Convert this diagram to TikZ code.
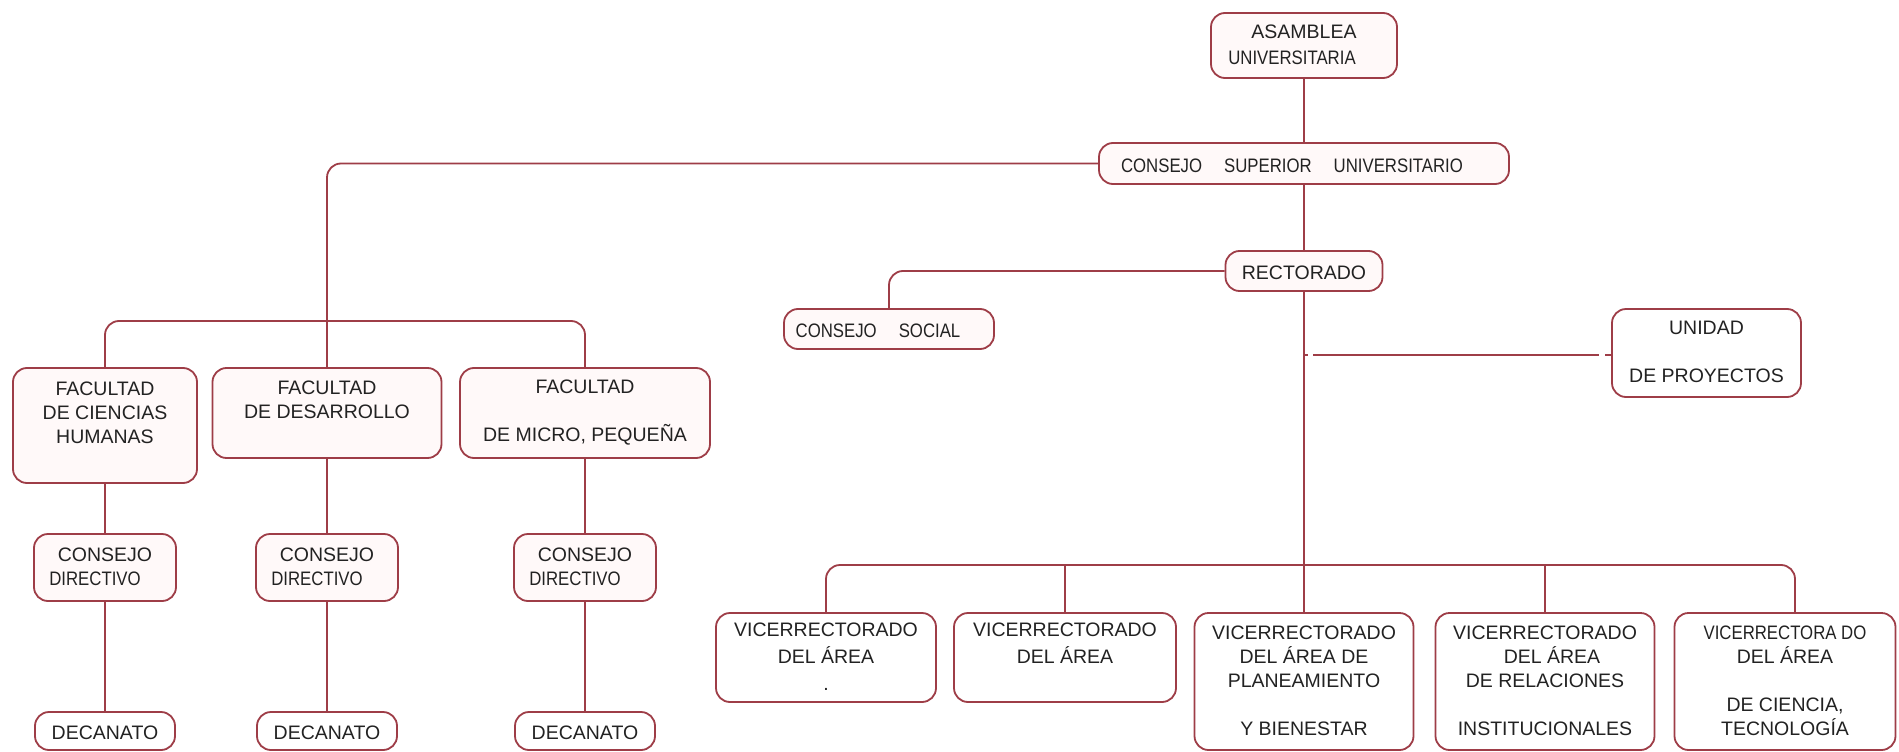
\documentclass[tikz,border=0pt]{standalone}
\usepackage{fontspec}
\setmainfont{Liberation Sans}
\usetikzlibrary{calc}
\definecolor{bc}{HTML}{9E3D47}
\definecolor{pk}{HTML}{FFF9F9}
\definecolor{tx}{HTML}{222222}
\newcommand{\cnd}{\addfontfeature{FakeStretch=0.86}}
\newcommand{\bst}{\rule[-2pt]{0pt}{21.5pt}}
\begin{document}
\begin{tikzpicture}[x=1pt,y=-1pt,
  box/.style={draw=bc, line width=1.8pt, rounded corners=14pt, fill=pk, align=center,
    inner sep=0pt, font=\fontsize{19.5}{24}\selectfont, text=tx,
    execute at begin node=\bst, execute at end node=\bst},
  sz/.style 2 args={minimum width=#1, minimum height=#2},
  link/.style={draw=bc, line width=1.8pt, rounded corners=14pt}]
\useasboundingbox (0,0) rectangle (1899,752);
% top
\node[box, sz={186pt}{65pt}] (asam) at (1304,45.5) {ASAMBLEA\\[2pt]{\cnd UNIVERSITARIA}\hspace*{24pt}};
\node[box, sz={410pt}{41pt}] (csu) at (1304,163.5) {{\cnd CONSEJO\hspace{22pt}SUPERIOR\hspace{22pt}UNIVERSITARIO}\hspace*{24pt}};
\node[box, sz={157pt}{40pt}] (rect) at (1304,271) {RECTORADO};
\node[box, sz={210pt}{40pt}] (csoc) at (889,329) {{\cnd CONSEJO\hspace{22pt}SOCIAL}\hspace*{22pt}};
\node[box, sz={189pt}{88pt}, fill=white] (unid) at (1706.5,353) {UNIDAD\\\bst\\DE PROYECTOS};
% faculties
\node[box, sz={184pt}{115pt}] (fac1) at (105,425.5) {FACULTAD\\DE CIENCIAS\\HUMANAS\\\bst};
\node[box, sz={229pt}{90pt}] (fac2) at (327,413) {FACULTAD\\DE DESARROLLO\\\bst};
\node[box, sz={250pt}{90pt}] (fac3) at (585,413) {FACULTAD\\\bst\\DE MICRO, PEQUEÑA};
\node[box, sz={142pt}{67pt}] (cd1) at (105,567.5) {CONSEJO\\{\cnd DIRECTIVO}\hspace*{20pt}};
\node[box, sz={142pt}{67pt}] (cd2) at (327,567.5) {CONSEJO\\{\cnd DIRECTIVO}\hspace*{20pt}};
\node[box, sz={142pt}{67pt}] (cd3) at (585,567.5) {CONSEJO\\{\cnd DIRECTIVO}\hspace*{20pt}};
\node[box, sz={140pt}{38pt}, fill=white] (dec1) at (105,731) {DECANATO};
\node[box, sz={140pt}{38pt}, fill=white] (dec2) at (327,731) {DECANATO};
\node[box, sz={140pt}{38pt}, fill=white] (dec3) at (585,731) {DECANATO};
% vice-rectorates
\node[box, sz={220pt}{89pt}, fill=white] (v1) at (826,657.5) {VICERRECTORADO\\[3pt]DEL ÁREA\\[3pt].};
\node[box, sz={222pt}{89pt}, fill=white] (v2) at (1065,657.5) {VICERRECTORADO\\[3pt]DEL ÁREA\\[3pt]\bst};
\node[box, sz={219pt}{137pt}, fill=white] (v3) at (1304,681.5) {VICERRECTORADO\\DEL ÁREA DE\\PLANEAMIENTO\\\bst\\Y BIENESTAR};
\node[box, sz={219pt}{137pt}, fill=white] (v4) at (1545,681.5) {VICERRECTORADO\\\hspace*{14pt}DEL ÁREA\\DE RELACIONES\\\bst\\INSTITUCIONALES};
\node[box, sz={221pt}{137pt}, fill=white] (v5) at (1785,681.5) {{\cnd VICERRECTORA DO}\\DEL ÁREA\\\bst\\DE CIENCIA,\\TECNOLOGÍA};
% connectors
\coordinate (vbar) at (1304,565);
\coordinate (fbar) at (327,321);
\coordinate (ujoin) at (1304,355);
\draw[link] (asam.south) -- (csu.north);
\draw[link] (csu.south) -- (rect.north);
\draw[link] (rect.south) -- (v3.north);
\draw[link] (v1.north) |- (vbar) -| ($(v5.north)+(10,0)$);
\draw[link] (v2.north) -- (v2.north |- vbar);
\draw[link] (v4.north) -- (v4.north |- vbar);
\draw[link] (rect.west) -| (csoc.north);
\draw[link] (csu.west) -| (fac2.north);
\draw[link] (fac1.north) |- (fbar) -| (fac3.north);
\draw[link, dash pattern=on 4pt off 5pt on 286pt off 6pt on 20pt] (ujoin) -- (unid.west |- ujoin);
\draw[link] (fac1.south) -- (cd1.north);
\draw[link] (fac2.south) -- (cd2.north);
\draw[link] (fac3.south) -- (cd3.north);
\draw[link] (cd1.south) -- (dec1.north);
\draw[link] (cd2.south) -- (dec2.north);
\draw[link] (cd3.south) -- (dec3.north);
\end{tikzpicture}
\end{document}
